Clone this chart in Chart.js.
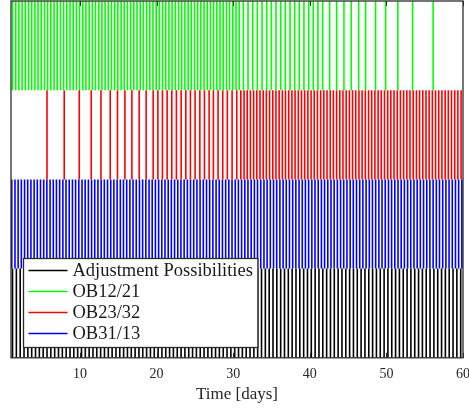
<!DOCTYPE html>
<html>
<head>
<meta charset="utf-8">
<script src="https://cdn.jsdelivr.net/npm/chart.js@4"></script>
<style>
  html, body { margin: 0; padding: 0; background: #fff; }
  #wrap { width: 469px; height: 409px; position: relative; }
</style>
</head>
<body>
<div id="wrap"><canvas id="c"></canvas></div>
<script>
// Event times in days for each channel
const seriesNames = ['Adjustment Possibilities', 'OB12/21', 'OB23/32', 'OB31/13'];
const seriesColors = ['#000000', '#00ff00', '#ff0000', '#0000ff'];

const adjustTimes = [
  1.2, 1.7, 2.2, 2.7, 3.2, 3.7, 4.2, 4.7, 5.2, 5.7,
  6.2, 6.7, 7.2, 7.7, 8.2, 8.7, 9.2, 9.7, 10.2, 10.7,
  11.2, 11.7, 12.2, 12.7, 13.2, 13.7, 14.2, 14.7, 15.2, 15.7,
  16.2, 16.7, 17.2, 17.7, 18.2, 18.7, 19.2, 19.7, 20.2, 20.7,
  21.2, 21.7, 22.2, 22.7, 23.2, 23.7, 24.2, 24.7, 25.2, 25.7,
  26.2, 26.7, 27.2, 27.7, 28.2, 28.7, 29.2, 29.7, 30.2, 30.7,
  31.2, 31.7, 32.2, 32.7, 33.2, 33.7, 34.2, 34.7, 35.2, 35.7,
  36.2, 36.7, 37.2, 37.7, 38.2, 38.7, 39.2, 39.7, 40.2, 40.7,
  41.2, 41.7, 42.2, 42.7, 43.2, 43.7, 44.2, 44.7, 45.2, 45.7,
  46.2, 46.7, 47.2, 47.7, 48.2, 48.7, 49.2, 49.7, 50.2, 50.7,
  51.2, 51.7, 52.2, 52.7, 53.2, 53.7, 54.2, 54.7, 55.2, 55.7,
  56.2, 56.7, 57.2, 57.7, 58.2, 58.7, 59.2, 59.7
];

const ob12Times = [
  1.20, 1.62, 2.03, 2.45, 2.87, 3.28, 3.70, 4.12, 4.53, 4.95, 5.37, 5.78,
  6.20, 6.62, 7.03, 7.45, 7.87, 8.28, 8.70, 9.12, 9.53, 9.95, 10.37, 10.78,
  11.20, 11.62, 12.03, 12.45, 12.87, 13.28, 13.70, 14.12, 14.53, 14.95, 15.37, 15.78,
  16.20, 16.62, 17.03, 17.45, 17.87, 18.28, 18.70, 19.12, 19.53, 19.95, 20.37, 20.78,
  21.20, 21.62, 22.03, 22.45, 22.87, 23.28, 23.70, 24.12, 24.53, 24.95, 25.37, 25.78,
  26.20, 26.62, 27.03, 27.45, 27.87, 28.28, 28.70, 29.12, 29.53, 29.95, 30.37, 30.78,
  31.33, 31.94, 32.56, 33.16, 33.77, 34.38, 34.98, 35.59, 36.21, 36.81,
  37.42, 38.03, 38.63, 39.24, 39.86, 40.46, 41.07, 41.68, 42.59, 43.51,
  44.46, 45.41, 46.38, 47.29, 48.59, 49.90, 51.50, 53.42, 56.10
];

const ob23Times = [
  5.70, 7.95, 9.91, 11.47, 12.74, 13.95, 14.90, 15.87, 16.78, 17.73,
  18.64, 19.56, 20.17, 20.77, 21.38, 21.99, 22.59, 23.21, 23.82, 24.42,
  25.03, 25.65, 26.25, 26.86, 27.42, 28.03, 28.64, 29.24, 29.86, 30.47,
  31.00, 31.42, 31.83, 32.25, 32.67, 33.08, 33.50, 33.92, 34.33, 34.75, 35.17, 35.58,
  36.00, 36.42, 36.83, 37.25, 37.67, 38.08, 38.50, 38.92, 39.33, 39.75, 40.17, 40.58,
  41.00, 41.42, 41.83, 42.25, 42.67, 43.08, 43.50, 43.92, 44.33, 44.75, 45.17, 45.58,
  46.00, 46.42, 46.83, 47.25, 47.67, 48.08, 48.50, 48.92, 49.33, 49.75, 50.17, 50.58,
  51.00, 51.42, 51.83, 52.25, 52.67, 53.08, 53.50, 53.92, 54.33, 54.75, 55.17, 55.58,
  56.00, 56.42, 56.83, 57.25, 57.67, 58.08, 58.50, 58.92, 59.33, 59.75
];

const ob31Times = [
  1.10, 1.52, 1.93, 2.35, 2.77, 3.18, 3.60, 4.02, 4.43, 4.85, 5.27, 5.68,
  6.10, 6.52, 6.93, 7.35, 7.77, 8.18, 8.60, 9.02, 9.43, 9.85, 10.27, 10.68,
  11.10, 11.52, 11.93, 12.35, 12.77, 13.18, 13.60, 14.02, 14.43, 14.85, 15.27, 15.68,
  16.10, 16.52, 16.93, 17.35, 17.77, 18.18, 18.60, 19.02, 19.43, 19.85, 20.27, 20.68,
  21.10, 21.52, 21.93, 22.35, 22.77, 23.18, 23.60, 24.02, 24.43, 24.85, 25.27, 25.68,
  26.10, 26.52, 26.93, 27.35, 27.77, 28.18, 28.60, 29.02, 29.43, 29.85, 30.27, 30.68,
  31.10, 31.52, 31.93, 32.35, 32.77, 33.18, 33.60, 34.02, 34.43, 34.85, 35.27, 35.68,
  36.10, 36.52, 36.93, 37.35, 37.77, 38.18, 38.60, 39.02, 39.43, 39.85, 40.27, 40.68,
  41.10, 41.52, 41.93, 42.35, 42.77, 43.18, 43.60, 44.02, 44.43, 44.85, 45.27, 45.68,
  46.10, 46.52, 46.93, 47.35, 47.77, 48.18, 48.60, 49.02, 49.43, 49.85, 50.27, 50.68,
  51.10, 51.52, 51.93, 52.35, 52.77, 53.18, 53.60, 54.02, 54.43, 54.85, 55.27, 55.68,
  56.10, 56.52, 56.93, 57.35, 57.77, 58.18, 58.60, 59.02, 59.43, 59.85
];

const xTickValues = [10, 20, 30, 40, 50, 60];
const xRange = [1, 60];
const axisTitle = 'Time [days]';

// Each channel occupies one horizontal band of the (hidden) y scale
const seriesTimes = [adjustTimes, ob12Times, ob23Times, ob31Times];
const rowBands = [[0, 1], [3, 4], [2, 3], [1, 2]];

// Turn event times into vertical segments separated by gaps
function eventSegments(times, band) {
  const pts = [];
  times.forEach(t => {
    pts.push({ x: t, y: band[0] }, { x: t, y: band[1] }, { x: t, y: null });
  });
  return pts;
}

const FRAME = '#2b2b2b';
const SERIF = '"Liberation Serif", "DejaVu Serif", serif';

// Plot frame, inward tick marks and the legend box inside the plot
const framePlugin = {
  id: 'frameAndLegend',
  afterDatasetsDraw(chart) {
    const { ctx, chartArea: a } = chart;
    const xs = chart.scales.x;
    ctx.save();
    ctx.strokeStyle = FRAME;
    ctx.lineWidth = 1.3;
    ctx.strokeRect(a.left, a.top, a.right - a.left, a.bottom - a.top);
    ctx.lineWidth = 1;
    xTickValues.forEach(v => {
      const px = Math.round(xs.getPixelForValue(v)) + 0.5;
      ctx.beginPath();
      ctx.moveTo(px, a.top); ctx.lineTo(px, a.top + 5);
      ctx.moveTo(px, a.bottom); ctx.lineTo(px, a.bottom - 5);
      ctx.stroke();
    });

    // legend
    const ds = chart.data.datasets;
    ctx.font = '18.5px ' + SERIF;
    const rowH = 21, sample = 39, gap = 5, padL = 5, padR = 5;
    const textW = Math.max(...ds.map(d => ctx.measureText(d.label).width));
    const w = padL + sample + gap + textW + padR;
    const h = rowH * ds.length + 5;
    const x0 = Math.round(a.left + 12) + 0.5;
    const y0 = Math.round(a.bottom - 11 - h) + 0.5;
    ctx.fillStyle = '#ffffff';
    ctx.fillRect(x0, y0, w, h);
    ctx.strokeStyle = FRAME;
    ctx.lineWidth = 1.3;
    ctx.strokeRect(x0, y0, w, h);
    ctx.textBaseline = 'middle';
    ctx.textAlign = 'left';
    ds.forEach((d, i) => {
      const cy = y0 + 12 + i * rowH;
      ctx.strokeStyle = d.borderColor;
      ctx.lineWidth = 1.5;
      ctx.beginPath();
      ctx.moveTo(x0 + padL, cy);
      ctx.lineTo(x0 + padL + sample, cy);
      ctx.stroke();
      ctx.fillStyle = '#1a1a1a';
      ctx.fillText(d.label, x0 + padL + sample + gap, cy + 1);
    });
    ctx.restore();
  }
};

new Chart(document.getElementById('c'), {
  type: 'line',
  data: {
    datasets: seriesNames.map((name, i) => ({
      label: name,
      data: eventSegments(seriesTimes[i], rowBands[i]),
      borderColor: seriesColors[i],
      borderWidth: 1.6,
      borderCapStyle: 'butt',
      pointRadius: 0,
      spanGaps: false,
      tension: 0
    }))
  },
  options: {
    responsive: true,
    maintainAspectRatio: false,
    animation: false,
    events: [],
    layout: { padding: { left: 11, right: 6, top: 1, bottom: 4 } },
    plugins: { legend: { display: false }, tooltip: { enabled: false } },
    scales: {
      x: {
        type: 'linear',
        min: xRange[0],
        max: xRange[1],
        grid: { display: false, drawTicks: false, tickLength: 0 },
        border: { display: false },
        afterBuildTicks: s => { s.ticks = xTickValues.map(v => ({ value: v })); },
        afterFit: s => { s.paddingLeft = 0; s.paddingRight = 0; },
        ticks: {
          padding: 8,
          maxRotation: 0,
          autoSkip: false,
          color: '#262626',
          font: { family: SERIF, size: 14 }
        },
        title: {
          display: true,
          text: axisTitle,
          color: '#262626',
          padding: { top: -6, bottom: 0 },
          font: { family: SERIF, size: 17 }
        }
      },
      y: {
        display: false,
        min: 0,
        max: 4
      }
    }
  },
  plugins: [framePlugin]
});
</script>
</body>
</html>
